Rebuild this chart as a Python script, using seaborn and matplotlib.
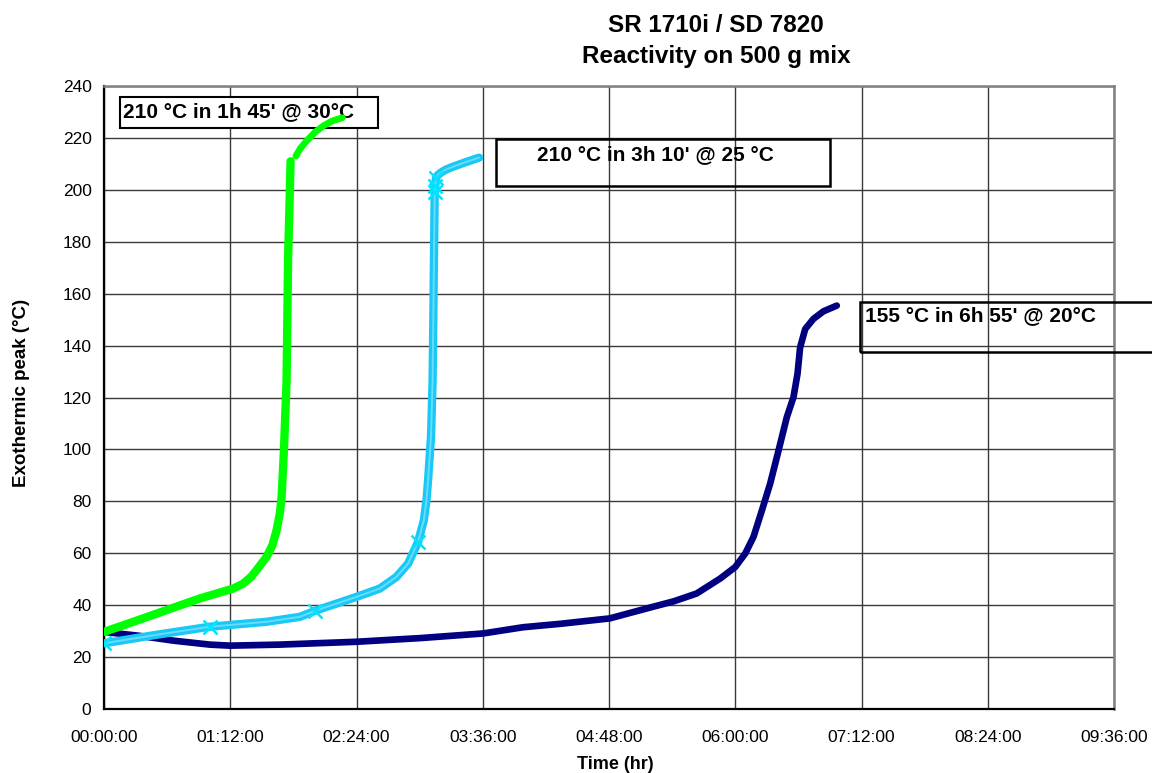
import seaborn as sns
import matplotlib.pyplot as plt
from matplotlib.patches import Rectangle
from matplotlib.ticker import FuncFormatter

# Данные: время в минутах, температура в °C
green_t = [0, 16.7, 35.7, 54.7, 73.7, 79.4, 84, 87, 92.7, 96, 98.4, 100.2, 101.3,
           102.6, 104.1, 105, 106, 106.4]
green_y = [29.7, 33.6, 38.1, 42.6, 46.4, 48.3, 51, 53.5, 58.6, 63, 68.8, 75, 81.7,
           99.6, 126, 174, 199.6, 211]
green_top_t = [109.4, 112, 115.5, 120, 125, 130, 136]
green_top_y = [213, 216, 218.8, 222, 224.6, 226.5, 227.8]

cyan_t = [0, 30, 60.4, 92.7, 111.7, 120.2, 144, 157.3, 166.8, 173.4, 179.1, 182.4,
          183.9, 184.8, 186.5, 187.4, 187.8, 188.2, 188.6, 188.9, 189.3, 190.5,
          192.5, 195, 199, 206, 213.9]
cyan_y = [25.3, 28.6, 31.7, 33.6, 35.5, 37.8, 43.2, 46.4, 50.9, 56, 64.3, 72.7,
          80.4, 88, 105, 126.5, 150, 175, 199, 201.5, 204.5, 205.8, 206.8, 207.8,
          208.9, 210.6, 212.4]
cyan_marks = [0, 2, 5, 10, 18, 19, 20]

navy_t = [0, 20, 40, 60.4, 71.8, 100, 144, 180, 216.2, 239, 260, 288.4, 309.3, 325,
          338, 351.5, 360, 365.7, 370.4, 375.2, 379.9, 384.7, 389.4, 393.2, 395.5,
          397, 399.9, 404.6, 410.3, 417.9]
navy_y = [29.7, 28.2, 26.3, 24.8, 24.4, 24.8, 25.9, 27.3, 29.1, 31.5, 32.8, 34.9, 38.7,
          41.5, 44.5, 50.3, 54.7, 59.9, 66.3, 76.5, 86.8, 99.6, 112.4, 120.1, 129.1,
          139.3, 146.4, 150.3, 153.2, 155.4]

x_ticks = list(range(0, 577, 72))
y_ticks = list(range(0, 241, 20))

notes = ["210 °C in 1h 45' @ 30°C", "210 °C in 3h 10' @ 25 °C", "155 °C in 6h 55' @ 20°C"]

sns.set_style("white")
plt.rcParams['font.family'] = ['Liberation Sans', 'DejaVu Sans']
plt.rcParams['text.color'] = 'black'
plt.rcParams['xtick.color'] = 'black'
plt.rcParams['ytick.color'] = 'black'

W, H = 1152, 773
fig = plt.figure(figsize=(W / 100, H / 100), dpi=100)
ax = fig.add_axes([104 / W, 1 - 709 / H, (1114 - 104) / W, (709 - 86) / H])


def fx(px):
    return px / W


def fy(py):
    return 1 - py / H


# рамка с белой заливкой под зелёной кривой
ax.add_patch(Rectangle((fx(120), fy(128)), fx(258), 31 / H, transform=fig.transFigure,
                       facecolor='white', edgecolor='black', lw=1.5, clip_on=False, zorder=3))
ax.add_patch(Rectangle((fx(496), fy(186)), fx(334), 47 / H, transform=fig.transFigure,
                       fill=False, edgecolor='black', lw=1.8, clip_on=False, zorder=3))
ax.add_patch(Rectangle((fx(860), fy(352)), fx(320), 50 / H, transform=fig.transFigure,
                       fill=False, edgecolor='black', lw=1.8, clip_on=False, zorder=3))

sns.lineplot(x=navy_t, y=navy_y, ax=ax, color='#000080', lw=4.8, sort=False,
             estimator=None, zorder=4)
sns.lineplot(x=cyan_t, y=cyan_y, ax=ax, color='#1AC8F5', lw=6, sort=False,
             estimator=None, zorder=5)
sns.lineplot(x=cyan_t, y=cyan_y, ax=ax, color='#66DDFF', lw=1.4, sort=False,
             estimator=None, zorder=6, marker='x', markevery=cyan_marks, markersize=10,
             markeredgecolor='#00E5FF', markeredgewidth=1.8)
sns.lineplot(x=green_t, y=green_y, ax=ax, color='#00FF00', lw=6, sort=False,
             estimator=None, zorder=7)
sns.lineplot(x=green_top_t, y=green_top_y, ax=ax, color='#00FF00', lw=4.8, sort=False,
             estimator=None, zorder=7)

ax.set_xlim(0, 576)
ax.set_ylim(0, 240)
ax.set_xticks(x_ticks)
ax.set_yticks(y_ticks)
ax.xaxis.set_major_formatter(FuncFormatter(
    lambda v, p: '%02d:%02d:00' % (int(v) // 60, int(v) % 60)))
ax.tick_params(axis='both', direction='out', length=5, width=1.2, colors='black',
               labelsize=12.5, pad=4)
ax.tick_params(axis='x', pad=10)
ax.grid(True, color='#3a3a3a', lw=1)
ax.set_axisbelow(True)
for s in ['left', 'bottom']:
    ax.spines[s].set_color('black')
    ax.spines[s].set_linewidth(1.6)
for s in ['top', 'right']:
    ax.spines[s].set_color('#808080')
    ax.spines[s].set_linewidth(1.8)
ax.set_xlabel('')
ax.set_ylabel('')

fig.text(fx(716), fy(31.5), 'SR 1710i / SD 7820', ha='center', va='baseline',
         fontsize=17.5, fontweight='bold')
fig.text(fx(716), fy(63), 'Reactivity on 500 g mix', ha='center', va='baseline',
         fontsize=17.5, fontweight='bold')
fig.text(fx(615), fy(769), 'Time (hr)', ha='center', va='baseline',
         fontsize=13, fontweight='bold')
fig.text(fx(22), fy(393), 'Exothermic peak (°C)', ha='center', va='center',
         rotation=90, fontsize=13.5, fontweight='bold')

ax.text(fx(123), fy(116.7), notes[0], transform=fig.transFigure, ha='left',
        va='baseline', fontsize=15, fontweight='bold', zorder=4)
ax.text(fx(537), fy(160), notes[1], transform=fig.transFigure, ha='left',
        va='baseline', fontsize=15, fontweight='bold', zorder=4)
ax.text(fx(865), fy(321.5), notes[2], transform=fig.transFigure, ha='left',
        va='baseline', fontsize=15, fontweight='bold', zorder=4)

fig.savefig('out.png', dpi=100)
